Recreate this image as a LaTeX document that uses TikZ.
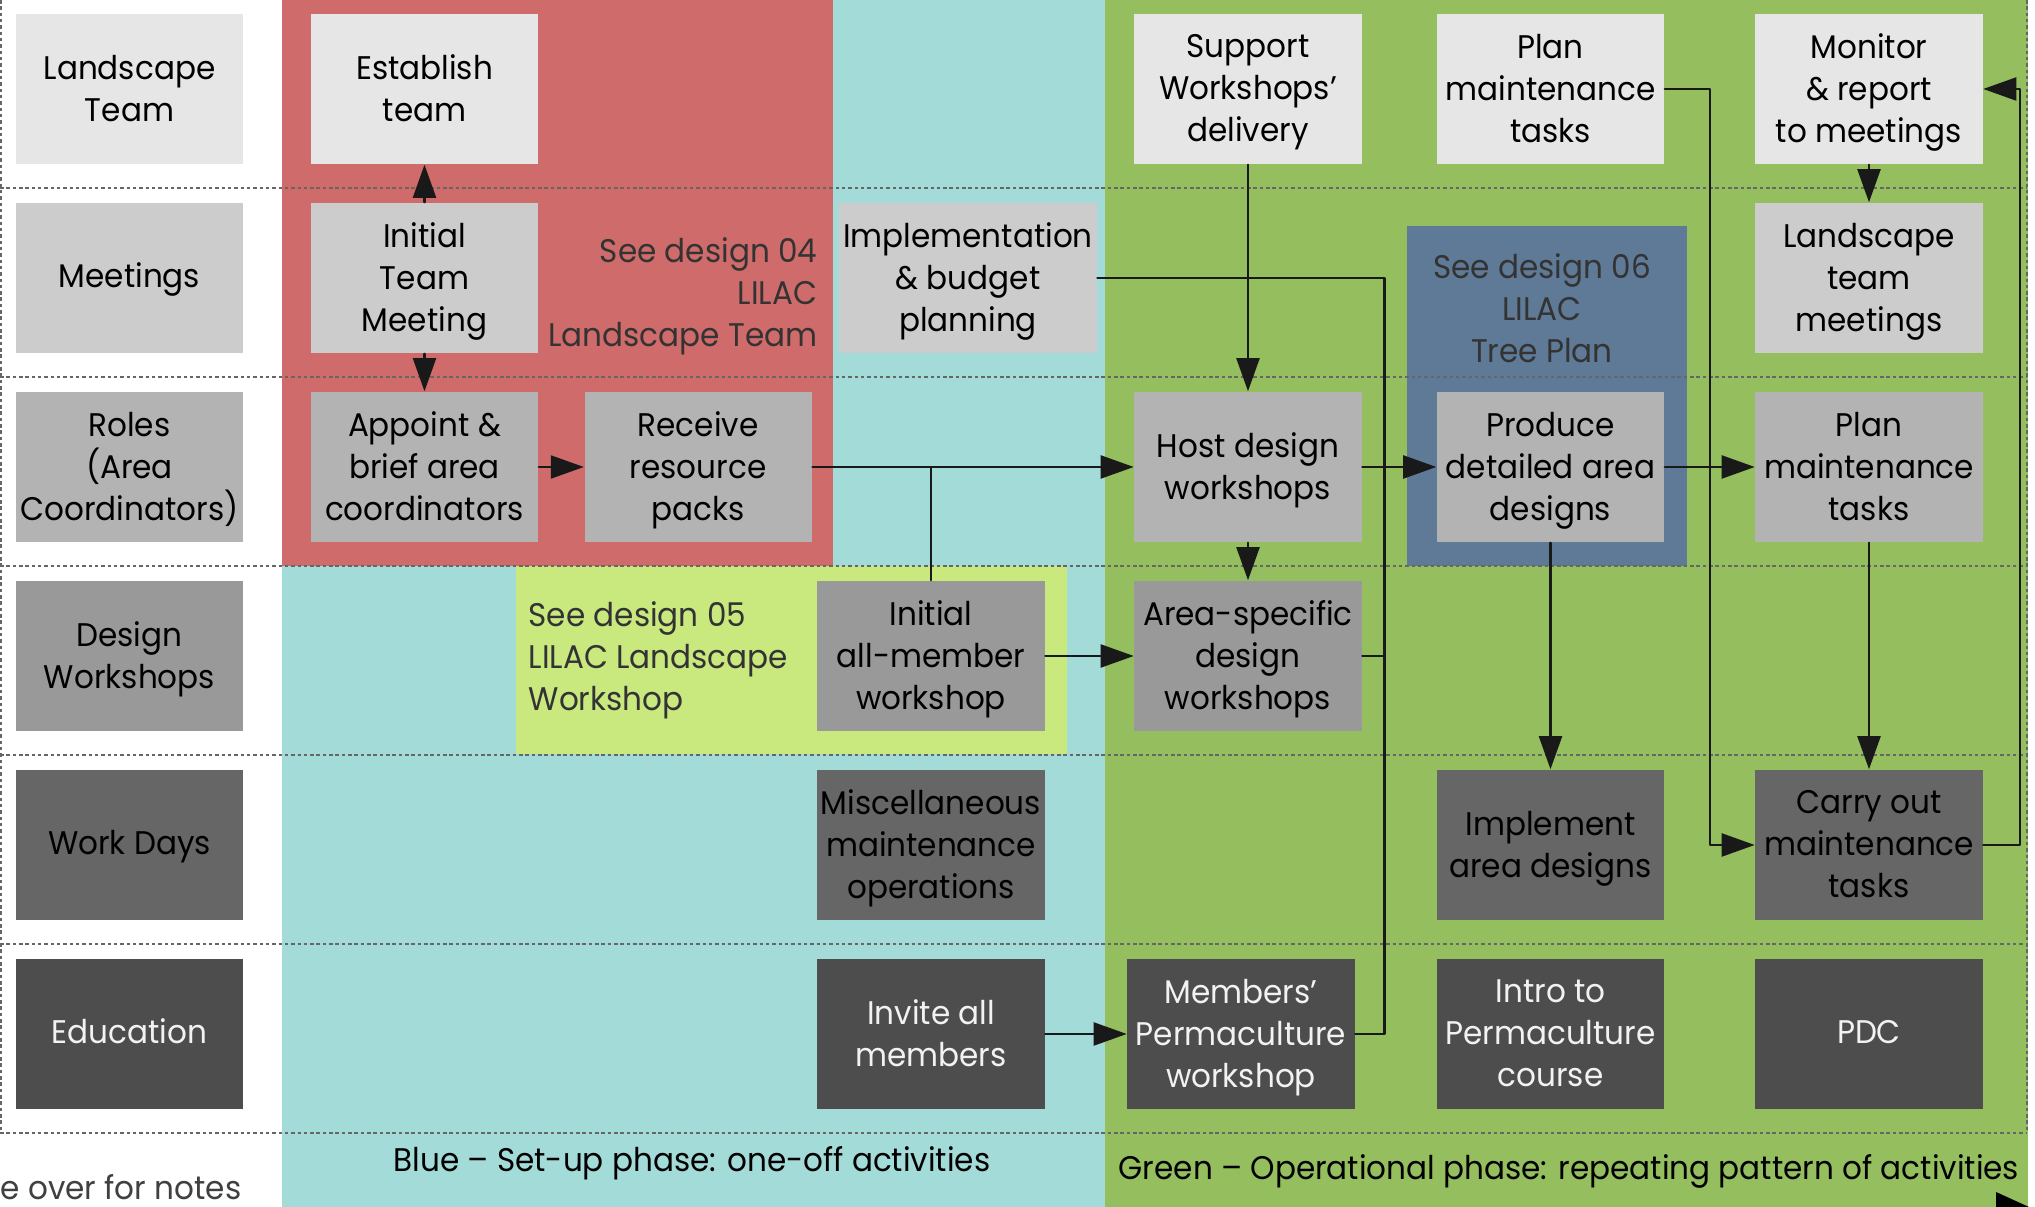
\documentclass[tikz,border=0pt]{standalone}
\usepackage{fontspec}
\setmainfont{Poppins}[FakeStretch=0.95]
\usepackage{tikz}
\usetikzlibrary{arrows.meta,positioning,calc}
\definecolor{setred}{HTML}{D06B6B}
\definecolor{setblue}{HTML}{A3DBD9}
\definecolor{opgreen}{HTML}{95BE5F}
\definecolor{wslime}{HTML}{C9E87E}
\definecolor{treeblue}{HTML}{5F7A96}
\definecolor{toneA}{HTML}{E6E6E6}
\definecolor{toneB}{HTML}{CCCCCC}
\definecolor{toneC}{HTML}{B3B3B3}
\definecolor{toneD}{HTML}{999999}
\definecolor{toneE}{HTML}{666666}
\definecolor{toneF}{HTML}{4D4D4D}
\definecolor{ink}{HTML}{333333}
\definecolor{paleink}{HTML}{F2F2F2}
\newcommand{\boxfont}{\fontsize{9.3pt}{11.9pt}\selectfont}
\tikzset{
    every picture/.style={line cap=round,line join=round},
    lanebox/.style={minimum width=22.7mm,minimum height=15mm,inner sep=0pt,
      align=center,text=black,text depth=0.4pt},
    oneline/.style={text height=7.5pt,text depth=2.1pt},
    teambox/.style={lanebox,fill=toneA},
    meetbox/.style={lanebox,fill=toneB},
    rolebox/.style={lanebox,fill=toneC},
    wsbox/.style={lanebox,fill=toneD},
    workbox/.style={lanebox,fill=toneE},
    edubox/.style={lanebox,fill=toneF,text=paleink},
    seenote/.style={text=ink,inner sep=0pt,text depth=0.4pt},
    lanerule/.style={draw=black!60,line width=0.35pt,line cap=butt,
      dash pattern=on 1pt off 0.8pt},
    flowline/.style={draw=black!90,line width=0.6pt},
    flowarrow/.style={flowline,-{Triangle[length=3.3mm,width=2.3mm]}}
}
\begin{document}
\begin{tikzpicture}[x=0.01cm,y=-0.01cm,font=\boxfont]
  \useasboundingbox (0,0) rectangle (2035,1207);
  \fill[setblue] (281.6,0) rectangle (1105,1207);
  \fill[setred] (281.6,0) rectangle (833,566);
  \fill[opgreen] (1105,0) rectangle (2028,1207);
  \fill[wslime] (515.5,566) rectangle (1066.5,754);
  \fill[treeblue] (1407,226) rectangle (1687,566);
  \foreach \y in {188,377,566,755,944,1133}
    \draw[lanerule] (0,\y) -- (2027,\y);
  \draw[lanerule] (1,0) -- (1,1133);
  \draw[lanerule] (2027,0) -- (2027,1133);

  \node[teambox] (lt) at (129.5,89) {Landscape\\Team};
  \node[meetbox,oneline] (lm) at (129.5,278) {Meetings};
  \node[rolebox] (lr) at (129.5,467) {Roles\\(Area\\Coordinators)};
  \node[wsbox] (lw) at (129.5,656) {Design\\Workshops};
  \node[workbox,oneline] (ld) at (129.5,845) {Work Days};
  \node[edubox,oneline] (le) at (129.5,1034) {Education};

  \node[teambox] (estab) at (424.5,89) {Establish\\team};
  \node[meetbox] (initmeet) at (424.5,278) {Initial\\Team\\Meeting};
  \node[rolebox] (appoint) at (424.5,467) {Appoint \&\\brief area\\coordinators};
  \node[rolebox,right=4.5mm of appoint] (packs) {Receive\\resource\\packs};
  \node[meetbox,minimum width=25.7mm] (budget) at (968,278) {Implementation\\\& budget\\planning};
  \node[wsbox] (allmem) at (931,656) {Initial\\all-member\\workshop};
  \node[workbox] (misc) at (931,845) {Miscellaneous\\maintenance\\operations};
  \node[edubox] (invite) at (931,1034) {Invite all\\members};

  \node[teambox] (support) at (1248,89) {Support\\Workshops’\\delivery};
  \node[rolebox] (host) at (1248,467) {Host design\\workshops};
  \node[wsbox] (areaws) at (1248,656) {Area-specific\\design\\workshops};
  \node[edubox] (permws) at (1241,1034) {Members’\\Permaculture\\workshop};

  \node[teambox] (plantop) at (1550.5,89) {Plan\\maintenance\\tasks};
  \node[rolebox] (produce) at (1550.5,467) {Produce\\detailed area\\designs};
  \node[workbox] (implement) at (1550.5,845) {Implement\\area designs};
  \node[edubox] (intro) at (1550.5,1034) {Intro to\\Permaculture\\course};

  \node[teambox] (monitor) at (1869,89) {Monitor\\\& report\\to meetings};
  \node[meetbox] (ltmeet) at (1869,278) {Landscape\\team\\meetings};
  \node[rolebox] (planrole) at (1869,467) {Plan\\maintenance\\tasks};
  \node[workbox] (carry) at (1869,845) {Carry out\\maintenance\\tasks};
  \node[edubox,oneline] (pdc) at (1869,1034) {PDC};

  \node[seenote,anchor=east,align=right] (note04) at (818,293) {See design 04\\LILAC\\Landscape Team};
  \node[seenote,align=center] (note06) at (1542,309) {See design 06\\LILAC\\Tree Plan};
  \node[seenote,anchor=west,align=left] (note05) at (528,657) {See design 05\\LILAC Landscape\\Workshop};

  \node[anchor=base] (bluecap) at (692,1172) {Blue – Set-up phase: one-off activities};
  \node[anchor=base] (greencap) at (1569,1180) {Green – Operational phase: repeating pattern of activities};
  \node[anchor=base west,inner sep=0pt,text=black!75] (notes) at (0,1200) {e over for notes};

  \draw[flowarrow] (initmeet) -- (estab);
  \draw[flowarrow] (initmeet) -- (appoint);
  \draw[flowarrow] (appoint) -- (packs);
  \draw[flowarrow] (packs) -- (host);
  \draw[flowline] (allmem) -- (allmem |- packs);
  \draw[flowarrow] (support) -- (host);
  \draw[flowarrow] (host) -- (areaws);
  \draw[flowarrow] (allmem) -- (areaws);
  \draw[flowarrow] (invite) -- (permws);
  \coordinate (merge) at ($(host.east)!0.3!(produce.west)$);
  \draw[flowline] (budget) -| (merge);
  \draw[flowline] (areaws) -| (merge);
  \draw[flowline] (permws) -| (merge);
  \draw[flowarrow] (host) -- (produce);
  \draw[flowarrow] (produce) -- (implement);
  \draw[flowarrow] (produce) -- (planrole);
  \draw[flowarrow] (planrole) -- (carry);
  \draw[flowarrow] (plantop.east) -- ++(45,0) |- (carry.west);
  \draw[flowarrow] (carry.east) -- ++(37,0) |- (monitor.east);
  \draw[flowarrow] (monitor) -- (ltmeet);
  \fill[black] (1996,1192) -- (2040,1212) -- (1996,1232) -- cycle;
\end{tikzpicture}
\end{document}
